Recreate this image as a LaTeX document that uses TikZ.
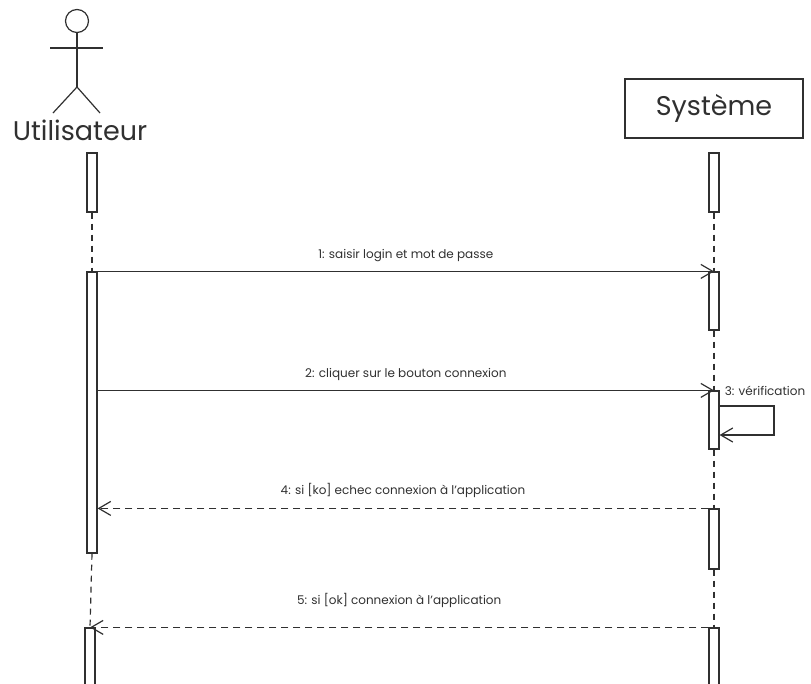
\documentclass[tikz,border=0pt]{standalone}
\usepackage{fontspec}
\setmainfont{Poppins}
\usetikzlibrary{arrows.meta}
\definecolor{ink}{HTML}{303030}
\begin{document}
\begin{tikzpicture}[x=1pt,y=-1pt,
  act/.style={draw=ink,fill=white,line width=1.2pt,minimum width=10pt,inner sep=0pt},
  msg/.style={draw=ink,line width=1.2pt,-{Straight Barb[length=12pt,width=14pt]}},
  ret/.style={msg,dash pattern=on 7pt off 5pt},
  life/.style={draw=ink,line width=1.2pt,dash pattern=on 6pt off 5pt},
  lbl/.style={text=ink,font=\fontsize{12}{14}\selectfont,inner sep=0pt}]
\useasboundingbox (0,0) rectangle (811,683);
\draw [ink,line width=1.2pt] (77,21) circle (11.5);
\draw [ink,line width=1.2pt] (77,32.5) -- (77,87);
\draw [ink,line width=1.2pt] (50,48) -- (103,48);
\draw [ink,line width=1.2pt] (53,113) -- (77,87) -- (100,113);
\node [text=ink,font=\fontsize{27}{30}\selectfont,anchor=base,inner sep=0pt] (user) at (80,140) {Utilisateur};
\node [draw=ink,line width=1.2pt,minimum width=178pt,minimum height=59pt,text=ink,font=\fontsize{27}{30}\selectfont] (sys) at (714,108.5) {Système};
\node [act,minimum height=59pt] (u1) at (92,182.5) {};
\node [act,minimum height=281pt] (u2) at (92,412.5) {};
\node [act,minimum height=64pt] (u3) at (90,660) {};
\node [act,minimum height=59pt] (s1) at (714,182.5) {};
\node [act,minimum height=58pt] (s2) at (714,301) {};
\node [act,minimum height=58pt] (s3) at (714,420) {};
\node [act,minimum height=60pt] (s4) at (714,539) {};
\node [act,minimum height=64pt] (s5) at (714,660) {};
\draw [life] (u1.south) -- (u2.north);
\draw [life] (u2.south) -- (u3.north);
\draw [life] (s1.south) -- (s2.north);
\draw [life] (s2.south) -- (s3.north);
\draw [life] (s3.south) -- (s4.north);
\draw [life] (s4.south) -- (s5.north);
\draw [msg] (u2.north east) -- (s2.north) node [lbl,midway,above=9pt] {1: saisir login et mot de passe};
\draw [msg] (u2.east |- s3.north) -- (s3.north) node [lbl,midway,above=9pt] {2: cliquer sur le bouton connexion};
\node [lbl,anchor=west] (verif) at ([xshift=5pt]s3.north east) {3: vérification};
\coordinate (loopa) at (774,406);
\coordinate (loopb) at (774,435);
\draw [msg] (s3.east |- loopa) -- (loopa) -- (loopb) -- (s3.east |- loopb);
\draw [ret] (s4.north west) -- (u2.east |- s4.north) node [lbl,midway,above=10pt] {4: si [ko] echec connexion à l'application};
\draw [ret] (s5.north west) -- (u3.north) node [lbl,midway,above=19pt] {5: si [ok] connexion à l'application};
\end{tikzpicture}
\end{document}
